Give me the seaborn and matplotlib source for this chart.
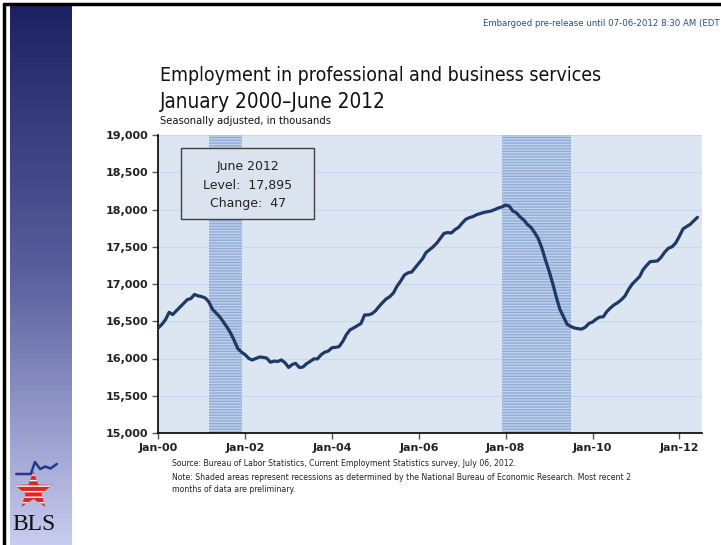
import numpy as np
import pandas as pd
import matplotlib
matplotlib.use("Agg")
import matplotlib.pyplot as plt
import matplotlib.dates as mdates
from matplotlib.patches import Polygon, Rectangle
from matplotlib.ticker import FuncFormatter, MultipleLocator
import seaborn as sns

# monthly employment, thousands
emp_2000 = [16410, 16460, 16520, 16620, 16590, 16640, 16690, 16740, 16790, 16805, 16860, 16840]
emp_2001 = [16830, 16810, 16760, 16660, 16610, 16560, 16490, 16420, 16340, 16240, 16130, 16085]
emp_2002 = [16050, 16000, 15980, 16000, 16020, 16015, 16005, 15950, 15965, 15960, 15980, 15945]
emp_2003 = [15880, 15920, 15935, 15880, 15885, 15930, 15960, 15995, 15995, 16050, 16085, 16100]
emp_2004 = [16145, 16150, 16160, 16230, 16320, 16385, 16410, 16440, 16470, 16585, 16585, 16600]
emp_2005 = [16640, 16700, 16750, 16800, 16830, 16880, 16970, 17040, 17120, 17150, 17160, 17220]
emp_2006 = [17280, 17340, 17420, 17460, 17500, 17550, 17615, 17680, 17690, 17685, 17730, 17760]
emp_2007 = [17820, 17870, 17890, 17905, 17930, 17945, 17960, 17970, 17980, 18000, 18020, 18035]
emp_2008 = [18060, 18045, 17980, 17955, 17900, 17860, 17800, 17760, 17690, 17610, 17480, 17320]
emp_2009 = [17170, 17000, 16830, 16660, 16560, 16460, 16430, 16410, 16400, 16395, 16420, 16470]
emp_2010 = [16490, 16530, 16555, 16560, 16630, 16680, 16720, 16750, 16790, 16840, 16930, 17000]
emp_2011 = [17050, 17100, 17190, 17250, 17300, 17305, 17310, 17360, 17430, 17480, 17500, 17550]
emp_2012 = [17640, 17740, 17770, 17800, 17848, 17895]

# recessions (NBER)
recession_start = ["2001-03-01", "2007-12-01"]
recession_end = ["2001-12-01", "2009-07-01"]

employment = (emp_2000 + emp_2001 + emp_2002 + emp_2003 + emp_2004 + emp_2005 + emp_2006
              + emp_2007 + emp_2008 + emp_2009 + emp_2010 + emp_2011 + emp_2012)
months = pd.date_range("2000-01-01", periods=len(employment), freq="MS")
df = pd.DataFrame({"month": months, "employment": employment})

sns.set_theme(style="white")
plt.rcParams["font.family"] = ["DejaVu Sans"]
plt.rcParams["hatch.linewidth"] = 1.0

fig = plt.figure(figsize=(7.21, 5.45), dpi=100)
fig.patch.set_facecolor("white")

# left gradient band
band = fig.add_axes([10 / 721, 0, 61 / 721, 540 / 545])
grad = np.linspace(0, 1, 256).reshape(-1, 1)
cmap = matplotlib.colors.LinearSegmentedColormap.from_list("band", ["#1b2162", "#5a5f9e", "#c8ccf0"])
band.imshow(grad, aspect="auto", cmap=cmap, extent=[0, 1, 0, 1])
band.set_axis_off()

# frame lines (left and top)
fig.add_artist(plt.Line2D([4 / 721, 4 / 721], [0, 1 - 4 / 545], color="black", lw=2.5))
fig.add_artist(plt.Line2D([4 / 721, 1], [1 - 4 / 545, 1 - 4 / 545], color="black", lw=2.5))

ax = fig.add_axes([158.3 / 721, (545 - 433) / 545, 543.4 / 721, 298 / 545])
ax.set_facecolor("#dce6f2")

for s, e in zip(recession_start, recession_end):
    ax.axvspan(pd.Timestamp(s), pd.Timestamp(e), facecolor="#c2d3ea", edgecolor="#8fabd8",
               hatch="------", lw=0, zorder=1)

sns.lineplot(data=df, x="month", y="employment", ax=ax, color="#1f3864", lw=2.3, zorder=3)

ax.set_ylim(15000, 19000)
ax.set_xlim(pd.Timestamp("2000-01-01"), pd.Timestamp("2012-07-07"))
ax.yaxis.set_major_locator(MultipleLocator(500))
ax.yaxis.set_major_formatter(FuncFormatter(lambda v, p: f"{int(v):,}"))
ax.xaxis.set_major_locator(mdates.YearLocator(2))
ax.xaxis.set_major_formatter(mdates.DateFormatter("%b-%y"))
ax.grid(axis="y", color="#c6d9f1", lw=0.9, zorder=0)
ax.set_axisbelow(True)
for side in ["top", "right"]:
    ax.spines[side].set_visible(False)
for side in ["left", "bottom"]:
    ax.spines[side].set_color("black")
    ax.spines[side].set_linewidth(1.2)
ax.tick_params(axis="both", direction="out", length=4, width=1, color="#555555",
               labelsize=8, pad=3, bottom=True, left=True)
for lbl in ax.get_xticklabels() + ax.get_yticklabels():
    lbl.set_fontweight("bold")
    lbl.set_color("#222222")
ax.set_xlabel("")
ax.set_ylabel("")

# annotation box
last = employment[-1]
change = employment[-1] - employment[-2]
ax.add_patch(Rectangle((0.042, 0.718), 0.245, 0.238, transform=ax.transAxes,
                       facecolor="#dbe3ee", edgecolor="#404040", lw=1, zorder=4))
box_lines = ["June 2012", f"Level:  {last:,}", f"Change:  {change}"]
for i, t in enumerate(box_lines):
    ax.text(0.1645, 0.893 - i * 0.061, t, transform=ax.transAxes, ha="center", va="center",
            fontsize=9, color="#222222", zorder=5)

# narrow-style texts
kw = dict(family=["DejaVu Sans"], fontstretch="condensed", ha="left", va="center")
t1 = fig.text(160 / 721, 1 - 75 / 545, "Employment in professional and business services",
              fontsize=14.5, color="#111111", **kw)
t2 = fig.text(160 / 721, 1 - 102 / 545, "January 2000\u2013June 2012",
              fontsize=16, color="#111111", **kw)
t3 = fig.text(160 / 721, 1 - 121 / 545, "Seasonally adjusted, in thousands",
              fontsize=7.5, color="#111111", **kw)
t4 = fig.text(483 / 721, 1 - 24 / 545, "Embargoed pre-release until 07-06-2012 8:30 AM (EDT",
              fontsize=7, color="#1f4e99", **kw)
s1 = fig.text(172 / 721, 1 - 464 / 545,
              "Source: Bureau of Labor Statistics, Current Employment Statistics survey, July 06, 2012.",
              fontsize=6, color="#222222", **kw)
s2 = fig.text(172 / 721, 1 - 477 / 545,
              "Note: Shaded areas represent recessions as determined by the National Bureau of Economic Research. Most recent 2",
              fontsize=6, color="#222222", **kw)
s3 = fig.text(172 / 721, 1 - 489 / 545, "months of data are preliminary.",
              fontsize=6, color="#222222", **kw)

# size the texts to the widths they take in the original
fig.canvas.draw()
renderer = fig.canvas.get_renderer()
for t, w in [(t1, 438), (t2, 228), (t3, 170), (t4, 235), (s2, 456)]:
    cur = t.get_window_extent(renderer).width
    t.set_fontsize(t.get_fontsize() * w / cur)
s1.set_fontsize(s2.get_fontsize())
s3.set_fontsize(s2.get_fontsize())

# BLS logo
logo = fig.add_axes([10 / 721, 5 / 545, 52 / 721, 80 / 545])
logo.set_xlim(0, 1)
logo.set_ylim(0, 1.6)
logo.set_axis_off()
ang = np.pi / 2 + np.arange(10) * np.pi / 5
rad = np.where(np.arange(10) % 2 == 0, 0.39, 0.16)
star = np.column_stack([0.45 + rad * np.cos(ang), 0.98 + rad * np.sin(ang)])
logo.add_patch(Polygon(star, closed=True, facecolor="#d42a2a", edgecolor="white",
                       hatch="---", lw=0))
logo.plot([0.12, 0.4, 0.48, 0.58, 0.68, 0.78, 0.9], [1.32, 1.32, 1.56, 1.42, 1.47, 1.43, 1.52],
          color="#1f3a8a", lw=1.8)
logo.text(0.47, 0.3, "BLS", family=["Liberation Serif", "DejaVu Serif"], fontstretch="condensed",
          fontsize=17, ha="center", va="center", color="#111111")

fig.savefig("out.png", dpi=100)
